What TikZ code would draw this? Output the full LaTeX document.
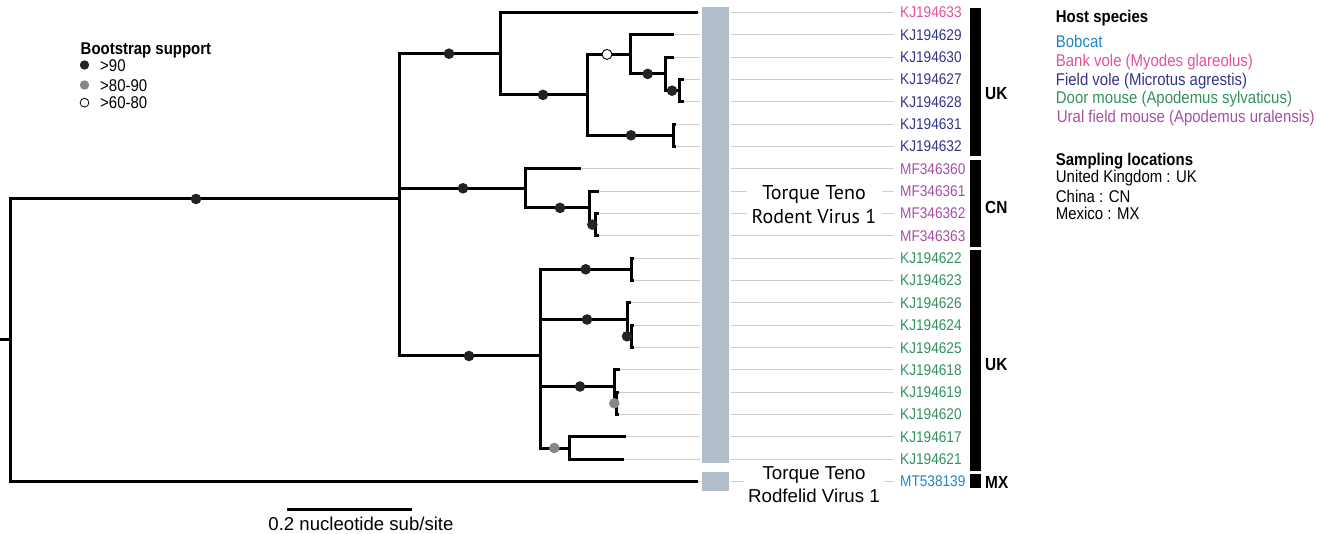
\documentclass[tikz,border=0pt]{standalone}
\usepackage{fontspec}
\setmainfont{Liberation Sans}
\newfontfamily\cf{Liberation Sans}[FakeStretch=0.88]
\newfontfamily\tf{PT Sans}
\definecolor{pinkc}{RGB}{228,80,154}
\definecolor{navyc}{RGB}{52,52,138}
\definecolor{greenc}{RGB}{50,145,95}
\definecolor{purplec}{RGB}{165,80,165}
\definecolor{bluec}{RGB}{30,134,200}
\definecolor{barc}{RGB}{177,190,201}
\definecolor{leadc}{RGB}{205,205,205}
\definecolor{dotc}{RGB}{35,35,35}
\definecolor{dotg}{RGB}{135,135,135}
\begin{document}
\begin{tikzpicture}[x=1pt,y=-1pt,
  br/.style={line width=3pt,line cap=rect},
  lead/.style={line width=1pt,draw=leadc},
  lab/.style={anchor=base west,yshift=-5.5pt,inner sep=0pt,font=\cf\fontsize{15.5}{18}\selectfont},
  leg/.style={anchor=base west,yshift=-6.1pt,inner sep=0pt,font=\cf\fontsize{17}{20}\selectfont},
  legt/.style={anchor=base west,yshift=-6.1pt,inner sep=0pt,font=\cf\bfseries\fontsize{17}{20}\selectfont},
  loc/.style={anchor=base west,yshift=-6.3pt,inner sep=0pt,font=\cf\bfseries\fontsize{17.5}{20}\selectfont},
  bd/.style={circle,fill=dotc,minimum size=10.6pt,inner sep=0pt},
  gd/.style={circle,fill=dotg,minimum size=10.6pt,inner sep=0pt},
  od/.style={circle,fill=white,draw=black,line width=0.9pt,minimum size=10pt,inner sep=0pt},
  lbd/.style={circle,fill=dotc,minimum size=9.4pt,inner sep=0pt},
  lgd/.style={circle,fill=dotg,minimum size=9.4pt,inner sep=0pt},
  lod/.style={circle,fill=white,draw=black,line width=0.8pt,minimum size=8.8pt,inner sep=0pt},
  vbox/.style={fill=white,inner sep=0pt,align=center}]
\useasboundingbox (0,0) rectangle (1322,534);
% reference coordinates
\coordinate (bl) at (700,0);
\coordinate (brr) at (731,0);
\coordinate (le) at (894,0);
% leaves
\foreach \i/\y/\tx/\c/\t in {
 0/12.5/696/pinkc/KJ194633,
 1/34.8/672/navyc/KJ194629,
 2/57.2/672/navyc/KJ194630,
 3/79.5/682/navyc/KJ194627,
 4/101.8/682/navyc/KJ194628,
 5/124.2/674/navyc/KJ194631,
 6/146.5/674/navyc/KJ194632,
 7/168.8/579/purplec/MF346360,
 8/191.1/597/purplec/MF346361,
 9/213.5/597/purplec/MF346362,
 10/235.8/597/purplec/MF346363,
 11/258.1/632/greenc/KJ194622,
 12/280.5/632/greenc/KJ194623,
 13/302.8/629/greenc/KJ194626,
 14/325.1/632/greenc/KJ194624,
 15/347.5/632/greenc/KJ194625,
 16/369.8/618/greenc/KJ194618,
 17/392.1/617/greenc/KJ194619,
 18/414.4/617/greenc/KJ194620,
 19/436.8/624/greenc/KJ194617,
 20/459.1/622/greenc/KJ194621,
 21/481.4/696/bluec/MT538139}{
 \coordinate (t\i) at (\tx,\y);
 \node[lab,text=\c] (l\i) at (900,\y) {\t};
 \draw[lead] (t\i) -- (t\i -| bl);
 \draw[lead] (t\i -| brr) -- (t\i -| le);
}
% grey bars
\fill[barc] (702,7.3) rectangle (728.5,462.7);
\fill[barc] (702,472.3) rectangle (728.5,490.7);
% virus labels
\node[vbox,minimum width=135pt,minimum height=52pt,font=\tf\fontsize{20}{23.7}\selectfont] (v1) at (814,204.5) {Torque Teno\\Rodent Virus 1};
\node[vbox,minimum width=140pt,minimum height=44pt,font=\fontsize{18.7}{22.7}\selectfont] (v2) at (814,485) {Torque Teno\\Rodfelid Virus 1};
% location bars
\fill (970,8) rectangle (981,156);
\fill (970,160) rectangle (981,246.7);
\fill (970,250) rectangle (981,471);
\fill (970,474.3) rectangle (981,488.3);
\node[loc] (uk1) at (985,93) {UK};
\node[loc] (cn) at (985,207) {CN};
\node[loc] (uk2) at (985,364) {UK};
\node[loc] (mx) at (985,482) {MX};
% internal nodes
\coordinate (R0) at (0,340);
\coordinate (R) at (10,340);
\coordinate (A) at (399,199);
\coordinate (B) at (500,53.7);
\coordinate (C) at (587,94.9);
\coordinate (D) at (630,54.4);
\coordinate (F) at (665,73.9);
\coordinate (G) at (679,90.7);
\coordinate (E) at (673,135.3);
\coordinate (H) at (525,188.3);
\coordinate (I) at (589,207.9);
\coordinate (J) at (595,224.6);
\coordinate (K) at (540,356);
\coordinate (L) at (631,269.3);
\coordinate (M) at (627,319.5);
\coordinate (N) at (631,336.3);
\coordinate (O) at (614.5,386.5);
\coordinate (P) at (616.5,403.3);
\coordinate (Q) at (569,448);
% tree edges
\draw[br] (R0) -- (R);
\draw[br] (R|-A) -- (R|-t21);
\draw[br] (R|-A) -- (A);
\draw[br] (R|-t21) -- (t21);
\draw[br] (A|-B) -- (A|-K);
\foreach \p/\a/\b in {B/t0/C, C/D/E, D/t1/F, F/t2/G, G/t3/t4, E/t5/t6,
  H/t7/I, I/t8/J, J/t9/t10, K/L/Q, L/t11/t12, M/t13/N, N/t14/t15,
  O/t16/P, P/t17/t18, Q/t19/t20}{
  \draw[br] (\p|-\a) -- (\p|-\b);
}
\foreach \p/\c in {A/B, A/H, A/K, B/t0, B/C, C/D, C/E, D/t1, D/F, F/t2, F/G,
  G/t3, G/t4, E/t5, E/t6, H/t7, H/I, I/t8, I/J, J/t9, J/t10,
  K/L, K/M, K/O, K/Q, L/t11, L/t12, M/t13, M/N, N/t14, N/t15,
  O/t16, O/P, P/t17, P/t18, Q/t19, Q/t20}{
  \draw[br] (\p|-\c) -- (\c);
}
% bootstrap dots
\node[bd] (d1) at (196,199) {};
\node[bd] (d2) at (449,53.7) {};
\node[bd] (d3) at (463,188.3) {};
\node[bd] (d4) at (469,356) {};
\node[bd] (d5) at (543,94.9) {};
\node[od] (d6) at (607,54.4) {};
\node[bd] (d7) at (631,135.3) {};
\node[bd] (d8) at (647.7,73.9) {};
\node[bd] (d9) at (672,90.7) {};
\node[bd] (d10) at (560,207.9) {};
\node[bd] (d11) at (592.3,224.6) {};
\node[bd] (d12) at (585.7,269.3) {};
\node[bd] (d13) at (587,319.5) {};
\node[bd] (d14) at (627,336.3) {};
\node[bd] (d15) at (580,386.5) {};
\node[gd] (d16) at (614.3,403.3) {};
\node[gd] (d17) at (554.3,448) {};
% bootstrap legend
\node[legt] (bt) at (80.5,48) {Bootstrap support};
\node[lbd] (b1) at (84.5,65) {};
\node[lgd] (b2) at (84.5,85) {};
\node[lod] (b3) at (84.5,102.7) {};
\node[leg] (b1t) at (100,65) {>90};
\node[leg] (b2t) at (100,85) {>80-90};
\node[leg] (b3t) at (100,102.7) {>60-80};
% host legend
\node[legt] (hs) at (1055.7,16.5) {Host species};
\node[leg,text=bluec] (h1) at (1055.7,41) {Bobcat};
\node[leg,text=pinkc] (h2) at (1055.7,60.5) {Bank vole (Myodes glareolus)};
\node[leg,text=navyc] (h3) at (1055.7,79) {Field vole (Microtus agrestis)};
\node[leg,text=greenc] (h4) at (1055.7,97.7) {Door mouse (Apodemus sylvaticus)};
\node[leg,text=purplec] (h5) at (1056.7,116.7) {Ural field mouse (Apodemus uralensis)};
\node[legt] (sl) at (1055.7,159.3) {Sampling locations};
\node[leg] (s1) at (1055.7,176) {United Kingdom : UK};
\node[leg] (s2) at (1055.7,196) {China : CN};
\node[leg] (s3) at (1055.7,213.5) {Mexico : MX};
% scale bar
\coordinate (sa) at (286.7,509.3);
\coordinate (sb) at (412.3,509.3);
\draw[line width=2.4pt] (sa) -- (sb);
\node[font=\fontsize{18.6}{22}\selectfont,inner sep=0pt] (st) at (361,523.5) {0.2 nucleotide sub/site};
\end{tikzpicture}
\end{document}
